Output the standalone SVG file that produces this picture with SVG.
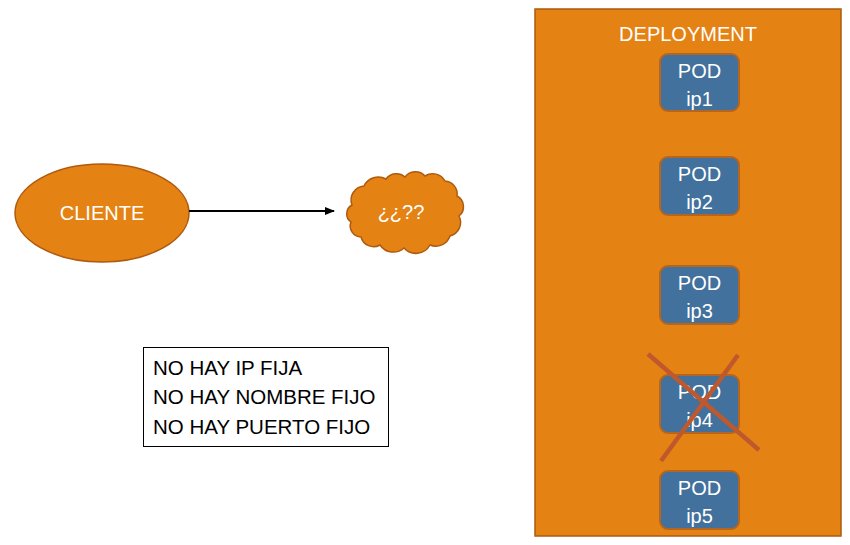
<svg xmlns="http://www.w3.org/2000/svg" width="850" height="545" viewBox="0 0 850 545">
<defs>
<style>
.lbl{font-family:"Liberation Sans",Arial,sans-serif;font-size:20px;fill:#fff;text-anchor:middle}
.note{font-family:"Liberation Sans",Arial,sans-serif;font-size:20.5px;fill:#000}
.pod{fill:#41719C;stroke:#B5651D;stroke-width:2}
.orange{fill:#E48213;stroke:#AE5A10;stroke-width:1.5}
.cross{stroke:#C0582E;stroke-width:4.5;stroke-linecap:butt}
</style>
<marker id="arr" markerWidth="10" markerHeight="8" refX="9" refY="4" orient="auto" markerUnits="userSpaceOnUse">
<path d="M0,0 L10,4 L0,8 Z" fill="#000"/>
</marker>
</defs>
<rect width="850" height="545" fill="#fff"/>

<g id="deployment">
<rect x="535" y="9" width="306" height="527" class="orange" stroke-width="2"/>
<text x="688" y="41" class="lbl">DEPLOYMENT</text>
</g>

<g id="pod1">
<rect x="660" y="54" width="79" height="57" rx="8" class="pod"/>
<text x="699.5" y="78" class="lbl">POD</text>
<text x="699.5" y="106" class="lbl">ip1</text>
</g>
<g id="pod2">
<rect x="660" y="157" width="79" height="58" rx="8" class="pod"/>
<text x="699.5" y="181" class="lbl">POD</text>
<text x="699.5" y="209" class="lbl">ip2</text>
</g>
<g id="pod3">
<rect x="660" y="266" width="79" height="58" rx="8" class="pod"/>
<text x="699.5" y="290" class="lbl">POD</text>
<text x="699.5" y="318" class="lbl">ip3</text>
</g>
<g id="pod4">
<rect x="660" y="375" width="79" height="58" rx="8" class="pod"/>
<text x="699.5" y="399" class="lbl">POD</text>
<text x="699.5" y="427" class="lbl">ip4</text>
<line x1="648" y1="354" x2="759" y2="450" class="cross"/>
<line x1="738" y1="355" x2="661" y2="461" class="cross"/>
</g>
<g id="pod5">
<rect x="660" y="471" width="79" height="58" rx="8" class="pod"/>
<text x="699.5" y="495" class="lbl">POD</text>
<text x="699.5" y="523" class="lbl">ip5</text>
</g>

<g id="cliente">
<ellipse cx="102" cy="213" rx="87" ry="49" class="orange"/>
<text x="102" y="220" class="lbl">CLIENTE</text>
</g>

<g id="cloud">
<path class="orange" d="M352,205 A14,14 0 0 1 364,186 A16,16 0 0 1 386,179 A13,13 0 0 1 405,177 A13,13 0 0 1 425,176 A14,14 0 0 1 445,181 A13,13 0 0 1 457,196 A12,12 0 0 1 459,216 A14,14 0 0 1 450,236 A15,15 0 0 1 430,245 A16,16 0 0 1 404,248 A16,16 0 0 1 380,245 A13,13 0 0 1 361,237 A11,11 0 0 1 351,222 A10,10 0 0 1 352,205 Z"/>
<text x="401" y="219" class="lbl">¿¿??</text>
</g>

<g id="connectors">
<line x1="189" y1="211" x2="334" y2="211" stroke="#000" stroke-width="2" marker-end="url(#arr)"/>
</g>

<g id="note">
<rect x="143.5" y="347.5" width="245" height="99" fill="#fff" stroke="#000" stroke-width="1"/>
<text x="153" y="375" class="note">NO HAY IP FIJA</text>
<text x="153" y="404" class="note">NO HAY NOMBRE FIJO</text>
<text x="153" y="434" class="note">NO HAY PUERTO FIJO</text>
</g>
</svg>
